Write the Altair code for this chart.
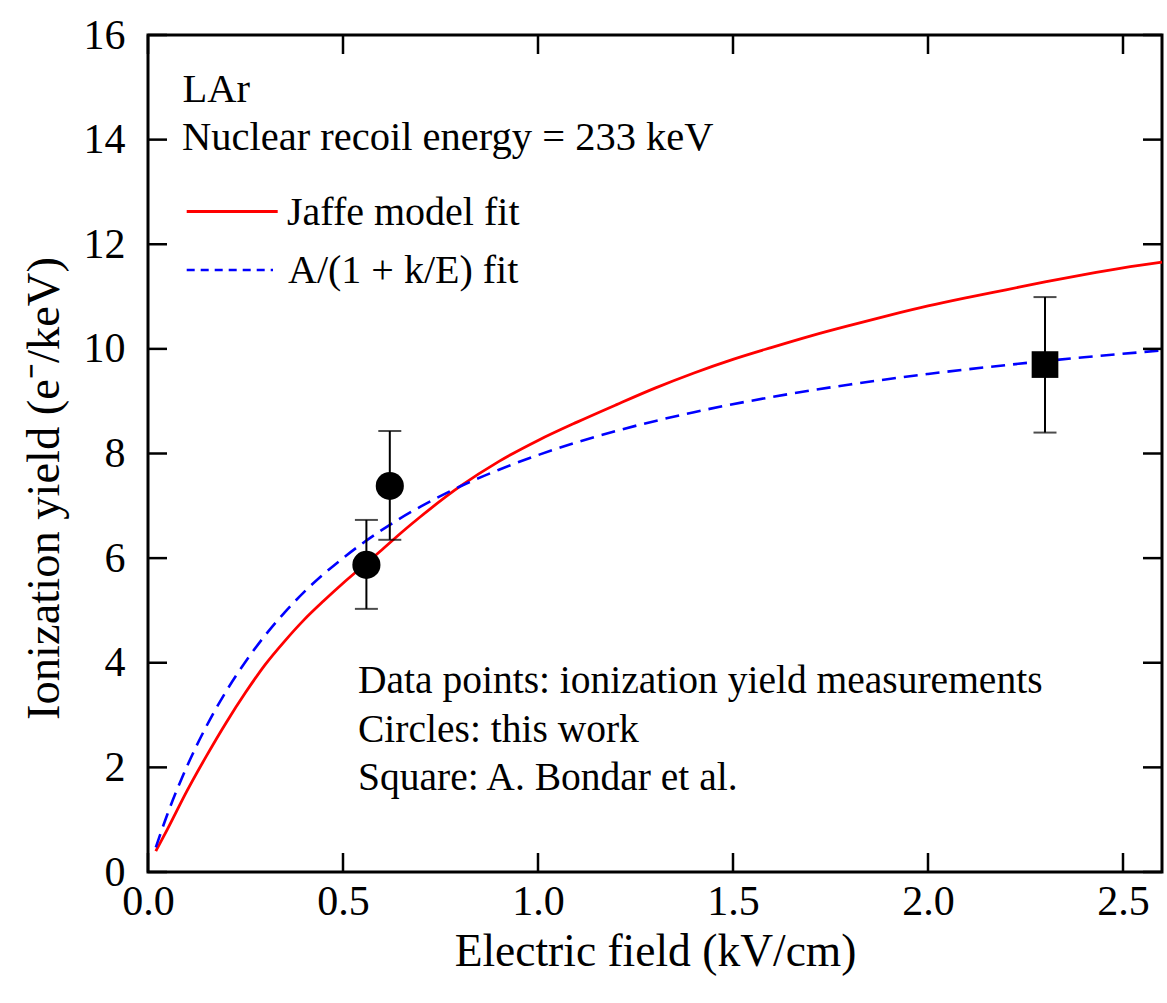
import altair as alt
import pandas as pd

# Ionization yield measurements (this work, circles)
meas_field = [0.56, 0.62]
meas_yield = [5.87, 7.38]
meas_lo = [5.03, 6.35]
meas_hi = [6.73, 8.43]

# A. Bondar et al. (square)
ref_field = [2.30]
ref_yield = [9.70]
ref_lo = [8.40]
ref_hi = [10.99]

# Jaffe model fit
jaffe_field = [0.02, 0.05, 0.1, 0.15, 0.2, 0.25, 0.3, 0.35, 0.4, 0.45, 0.5, 0.55,
               0.6, 0.65, 0.7, 0.8, 0.9, 1.0, 1.1, 1.2, 1.3, 1.4, 1.5, 1.6, 1.7,
               1.8, 1.9, 2.0, 2.1, 2.2, 2.3, 2.4, 2.5, 2.6]
jaffe_yield = [0.40, 0.82, 1.55, 2.22, 2.85, 3.43, 3.96, 4.41, 4.82, 5.18, 5.52, 5.84,
               6.16, 6.49, 6.80, 7.37, 7.85, 8.25, 8.60, 8.93, 9.25, 9.54, 9.80, 10.03,
               10.25, 10.45, 10.64, 10.82, 10.98, 11.13, 11.28, 11.42, 11.55, 11.66]

# A/(1 + k/E) fit
fit_field = [0.02, 0.05, 0.1, 0.15, 0.2, 0.25, 0.3, 0.35, 0.4, 0.5, 0.6, 0.7, 0.8,
             0.9, 1.0, 1.2, 1.4, 1.6, 1.8, 2.0, 2.2, 2.4, 2.6]
fit_yield = [0.47, 1.11, 2.02, 2.79, 3.45, 4.02, 4.52, 4.96, 5.35, 6.00, 6.54, 6.99,
             7.37, 7.69, 7.97, 8.43, 8.79, 9.08, 9.32, 9.52, 9.69, 9.84, 9.97]

x_ticks = [0.0, 0.5, 1.0, 1.5, 2.0, 2.5]
y_ticks = [0, 2, 4, 6, 8, 10, 12, 14, 16]

W, H = 1014, 837
FONT = "Liberation Serif"
TICK = 19

xs = alt.Scale(domain=[0, 2.6], nice=False, zero=False)
ys = alt.Scale(domain=[0, 16], nice=False, zero=False)

x_axis = alt.Axis(
    values=x_ticks, format=".1f", ticks=False, domain=False, grid=False,
    labelFont=FONT, labelFontSize=42, labelColor="black", labelPadding=9,
    labelFlush=False,
    title="Electric field (kV/cm)", titleFont=FONT, titleFontSize=45.5,
    titleFontWeight="normal", titleColor="black",
    titleBaseline="alphabetic", titleY=93, titleX=W / 2, titleAlign="center",
)
y_axis = alt.Axis(
    values=y_ticks, format="d", ticks=False, domain=False, grid=False,
    labelFont=FONT, labelFontSize=42, labelColor="black", labelPadding=23,
    labelFlush=False,
    title="Ionization yield (e\u207b/keV)", titleFont=FONT, titleFontSize=46.5,
    titleFontWeight="normal", titleColor="black", titleAngle=270,
    titleBaseline="alphabetic", titleX=-90, titleY=453, titleAlign="center",
)


def X(field):
    return alt.X(f"{field}:Q", scale=xs, axis=x_axis)


def Y(field):
    return alt.Y(f"{field}:Q", scale=ys, axis=y_axis)


jaffe_df = pd.DataFrame({"E": jaffe_field, "Y": jaffe_yield})
fit_df = pd.DataFrame({"E": fit_field, "Y": fit_yield})
meas_df = pd.DataFrame({"E": meas_field, "Y": meas_yield, "lo": meas_lo, "hi": meas_hi})
ref_df = pd.DataFrame({"E": ref_field, "Y": ref_yield, "lo": ref_lo, "hi": ref_hi})
pts_df = pd.concat([meas_df, ref_df], ignore_index=True)
xt_df = pd.DataFrame({"t": x_ticks})
yt_df = pd.DataFrame({"t": y_ticks})

jaffe = alt.Chart(jaffe_df).mark_line(
    color="#ff0000", strokeWidth=2.8, interpolate="monotone").encode(
    x=X("E"), y=Y("Y"))
fit = alt.Chart(fit_df).mark_line(
    color="#0000ff", strokeWidth=2.6, strokeDash=[14, 8], interpolate="monotone").encode(
    x=X("E"), y=Y("Y"))

err = alt.Chart(pts_df).mark_rule(color="black", strokeWidth=2).encode(
    x=X("E"), y=Y("lo"), y2="hi")
cap_lo = alt.Chart(pts_df).mark_tick(
    color="black", orient="horizontal", size=23, thickness=2).encode(x=X("E"), y=Y("lo"))
cap_hi = alt.Chart(pts_df).mark_tick(
    color="black", orient="horizontal", size=23, thickness=2).encode(x=X("E"), y=Y("hi"))

circles = alt.Chart(meas_df).mark_point(
    shape="circle", filled=True, color="black", opacity=1, size=790).encode(
    x=X("E"), y=Y("Y"))
squares = alt.Chart(ref_df).mark_point(
    shape="square", filled=True, color="black", opacity=1, size=712).encode(
    x=X("E"), y=Y("Y"))

# inward ticks on all four sides of the frame
tick_style = dict(color="black", strokeWidth=2.5)
bottom_ticks = alt.Chart(xt_df).mark_rule(**tick_style).encode(
    x=X("t"), y=alt.value(H), y2=alt.value(H - TICK))
top_ticks = alt.Chart(xt_df).mark_rule(**tick_style).encode(
    x=X("t"), y=alt.value(0), y2=alt.value(TICK))
left_ticks = alt.Chart(yt_df).mark_rule(**tick_style).encode(
    y=Y("t"), x=alt.value(0), x2=alt.value(TICK))
right_ticks = alt.Chart(yt_df).mark_rule(**tick_style).encode(
    y=Y("t"), x=alt.value(W - TICK), x2=alt.value(W))

# legend samples
leg_red = alt.Chart(pd.DataFrame({"k": [0]})).mark_rule(
    color="#ff0000", strokeWidth=2.8).encode(
    x=alt.value(38.7), x2=alt.value(129.7), y=alt.value(176.5))
leg_blue = alt.Chart(pd.DataFrame({"k": [0]})).mark_rule(
    color="#0000ff", strokeWidth=2.4, strokeDash=[8, 6]).encode(
    x=alt.value(38.7), x2=alt.value(125), y=alt.value(235))

text_style = dict(font=FONT, fontSize=40, color="black", align="left",
                  baseline="alphabetic")


def label(txt, px, py, size=40):
    return alt.Chart(pd.DataFrame({"s": [txt]})).mark_text(
        **{**text_style, "fontSize": size}).encode(
        text="s:N", x=alt.value(px), y=alt.value(py))


texts = [
    label("LAr", 34.5, 67, 40.5),
    label("Nuclear recoil energy = 233 keV", 34, 115, 40.5),
    label("Jaffe model fit", 139, 190),
    label("A/(1 + k/E) fit", 140, 248),
    label("Data points: ionization yield measurements", 210, 658, 39.5),
    label("Circles: this work", 210, 707, 39.5),
    label("Square: A. Bondar et al.", 210, 755, 39.5),
]

chart = alt.layer(
    jaffe, fit, err, cap_lo, cap_hi, circles, squares,
    bottom_ticks, top_ticks, left_ticks, right_ticks,
    leg_red, leg_blue, *texts,
).properties(
    width=W, height=H,
    autosize=alt.AutoSizeParams(type="none"),
    padding={"left": 148, "top": 35, "right": 5, "bottom": 131},
    background="white",
).configure_view(
    stroke="black", strokeWidth=3,
)

chart.save("out.html", embed_options={"renderer": "svg", "actions": False})
